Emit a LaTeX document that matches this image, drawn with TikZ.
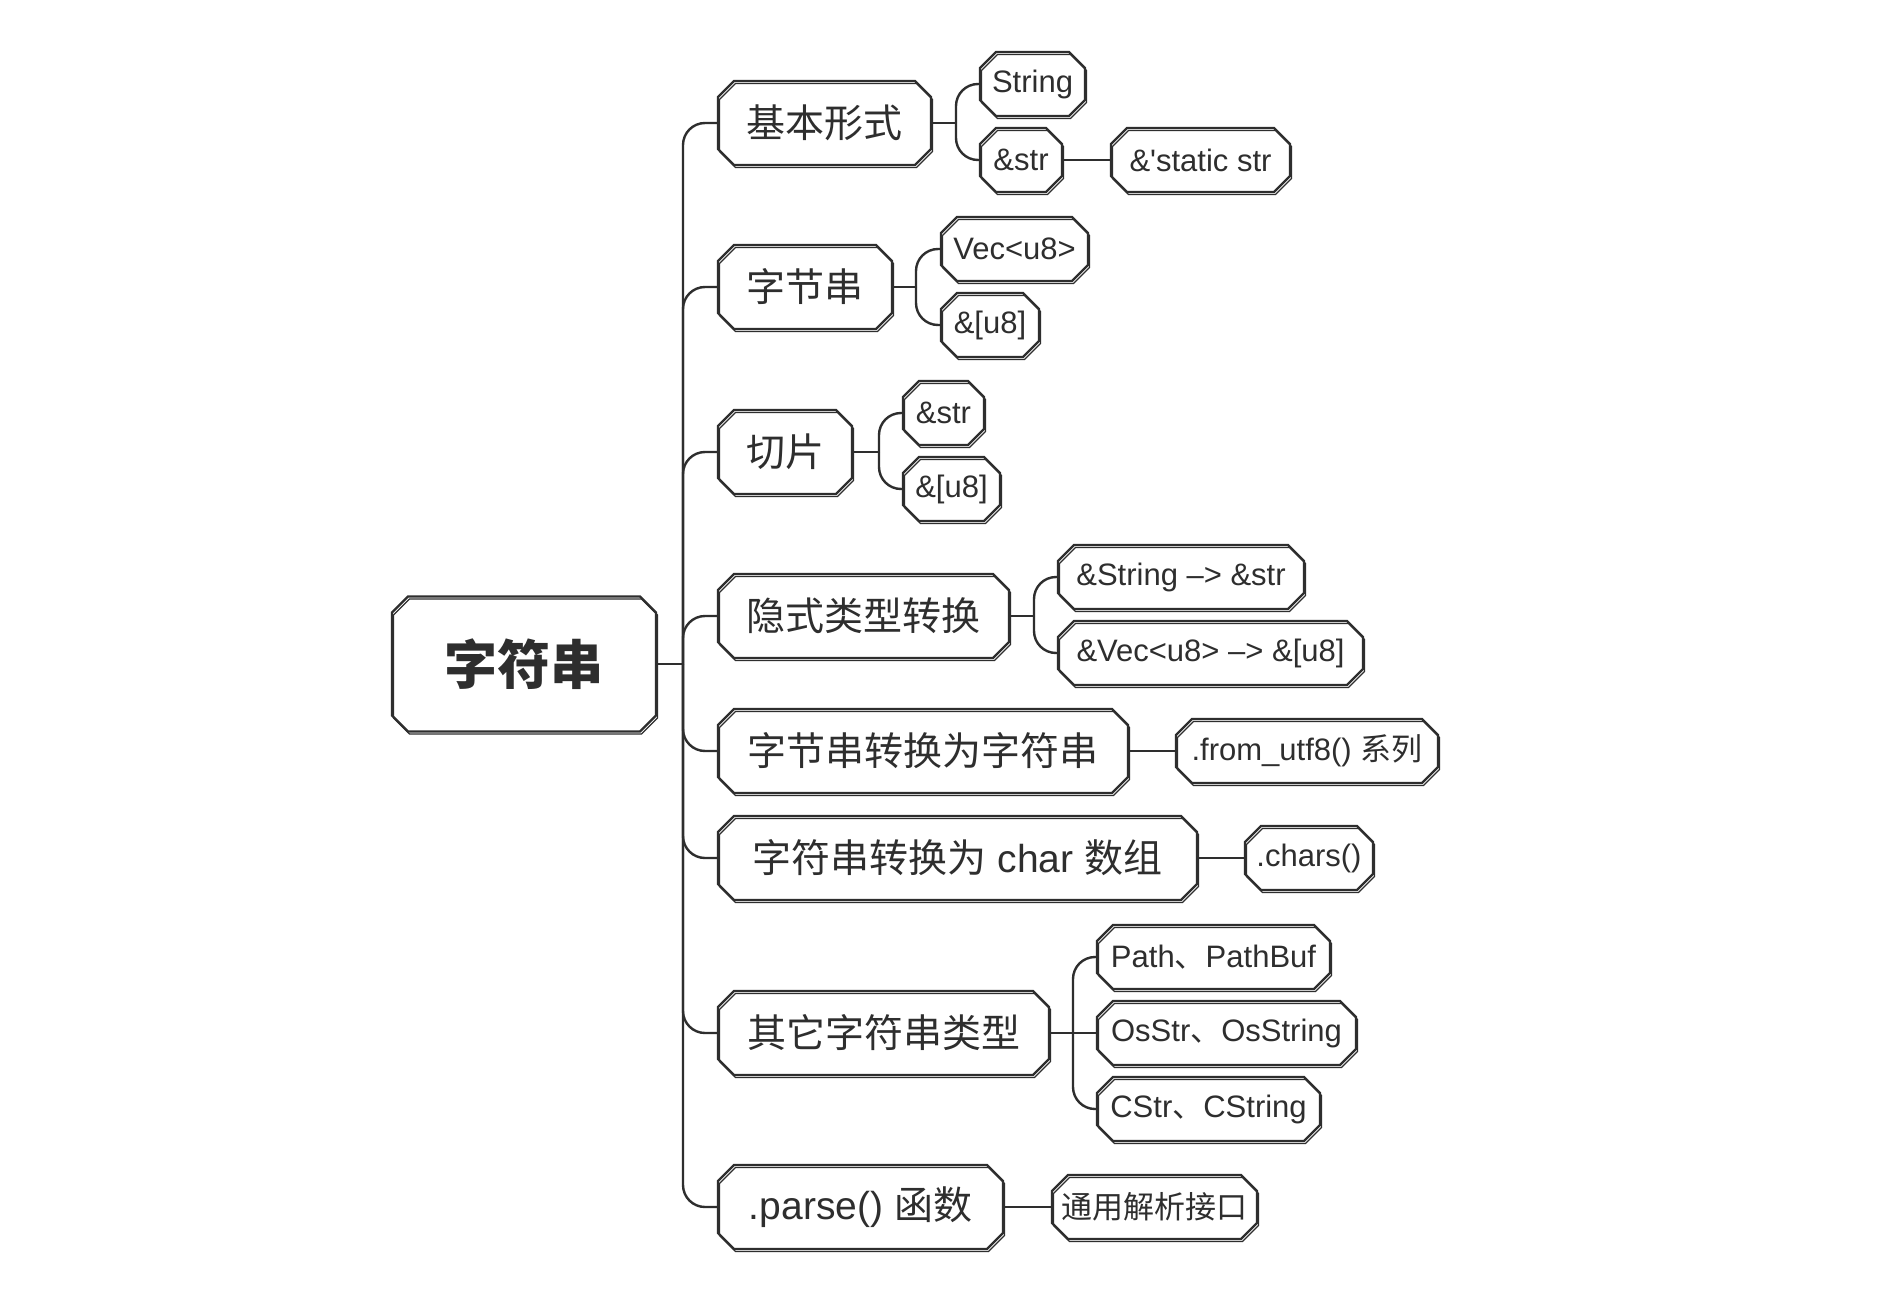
\documentclass[tikz,border=0pt]{standalone}
\usepackage{fontspec}
\setmainfont{Liberation Sans}[Ligatures=TeXOff]
\newfontfamily\cjk{Noto Sans CJK SC}
\usetikzlibrary{shapes.misc}
\definecolor{ink}{HTML}{2E2E2E}
\tikzset{
  sk/.style={shape=chamfered rectangle, chamfered rectangle xsep=8pt, chamfered rectangle ysep=8pt,
    draw=ink, line width=2.4pt, text=ink, inner sep=0pt, align=center,
    postaction={draw=ink, line width=1.1pt, transform canvas={shift={(1.5pt,-2.5pt)}}}},
  rootbox/.style={sk, minimum height=135pt, font=\fontsize{53}{60}\selectfont\cjk\bfseries},
  lone/.style={sk, minimum height=84pt, font=\fontsize{39}{45}\selectfont},
  ltwo/.style={sk, minimum height=64pt, font=\fontsize{31}{37}\selectfont},
  link/.style={draw=ink, line width=2.4pt, rounded corners=22pt},
}
\begin{document}
\begin{tikzpicture}[x=1pt,y=-1pt]
\useasboundingbox[fill=white] (0,0) rectangle (1890,1316);
% root
\node[rootbox, minimum width=264pt] (root) at (524,664) {字符串};
% level 1
\node[lone, minimum width=213pt] (n1) at (824.5,123) {\cjk 基本形式};
\node[lone, minimum width=174pt] (n2) at (805,287) {\cjk 字节串};
\node[lone, minimum width=134pt] (n3) at (785,452) {\cjk 切片};
\node[lone, minimum width=291pt] (n4) at (863.5,616) {\cjk 隐式类型转换};
\node[lone, minimum width=410pt] (n5) at (923,751) {\cjk 字节串转换为字符串};
\node[lone, minimum width=479pt] (n6) at (957.5,858) {{\cjk 字符串转换为} char {\cjk 数组}};
\node[lone, minimum width=331pt] (n7) at (883.5,1033) {\cjk 其它字符串类型};
\node[lone, minimum width=285pt] (n8) at (860.5,1207) {.parse() {\cjk 函数}};
% level 2
\node[ltwo, minimum width=105pt] (c11) at (1032.5,84) {String};
\node[ltwo, minimum width=82pt] (c12) at (1021,160) {\&str};
\node[ltwo, minimum width=179pt] (c121) at (1200.5,160) {\&'static str};
\node[ltwo, minimum width=147pt] (c21) at (1014.5,249) {Vec<u8>};
\node[ltwo, minimum width=98pt] (c22) at (990,325) {\&[u8]};
\node[ltwo, minimum width=81pt] (c31) at (943.5,413) {\&str};
\node[ltwo, minimum width=97pt] (c32) at (951.5,489) {\&[u8]};
\node[ltwo, minimum width=246pt] (c41) at (1181,577) {\&String –> \&str};
\node[ltwo, minimum width=305pt] (c42) at (1210.5,653) {\&Vec<u8> –> \&[u8]};
\node[ltwo, minimum width=262pt] (c51) at (1307,751) {.from\_utf8() {\cjk 系列}};
\node[ltwo, minimum width=128pt] (c61) at (1309,858) {.chars()};
\node[ltwo, minimum width=233pt] (c71) at (1213.5,957) {Path{\cjk 、}PathBuf};
\node[ltwo, minimum width=259pt] (c72) at (1226.5,1033) {OsStr{\cjk 、}OsString};
\node[ltwo, minimum width=223pt] (c73) at (1208.5,1109) {CStr{\cjk 、}CString};
\node[ltwo, minimum width=205pt] (c81) at (1154.5,1207) {\cjk 通用解析接口};
% trunk
\coordinate (tr) at (683,664);
\draw[link] (root.east) -- (tr);
\foreach \n in {n1,n2,n3,n4,n5,n6,n7,n8}{
  \draw[link] (tr) |- (\n.west);
}
% sub branches
\coordinate (j1) at (956,123);
\draw[link] (n1.east) -- (j1);
\draw[link] (j1) |- (c11.west);
\draw[link] (j1) |- (c12.west);
\draw[link] (c12.east) -- (c121.west);
\coordinate (j2) at (916,287);
\draw[link] (n2.east) -- (j2);
\draw[link] (j2) |- (c21.west);
\draw[link] (j2) |- (c22.west);
\coordinate (j3) at (879,452);
\draw[link] (n3.east) -- (j3);
\draw[link] (j3) |- (c31.west);
\draw[link] (j3) |- (c32.west);
\coordinate (j4) at (1034,616);
\draw[link] (n4.east) -- (j4);
\draw[link] (j4) |- (c41.west);
\draw[link] (j4) |- (c42.west);
\draw[link] (n5.east) -- (c51.west);
\draw[link] (n6.east) -- (c61.west);
\coordinate (j7) at (1073,1033);
\draw[link] (n7.east) -- (c72.west);
\draw[link] (j7) |- (c71.west);
\draw[link] (j7) |- (c73.west);
\draw[link] (n8.east) -- (c81.west);
\end{tikzpicture}
\end{document}
